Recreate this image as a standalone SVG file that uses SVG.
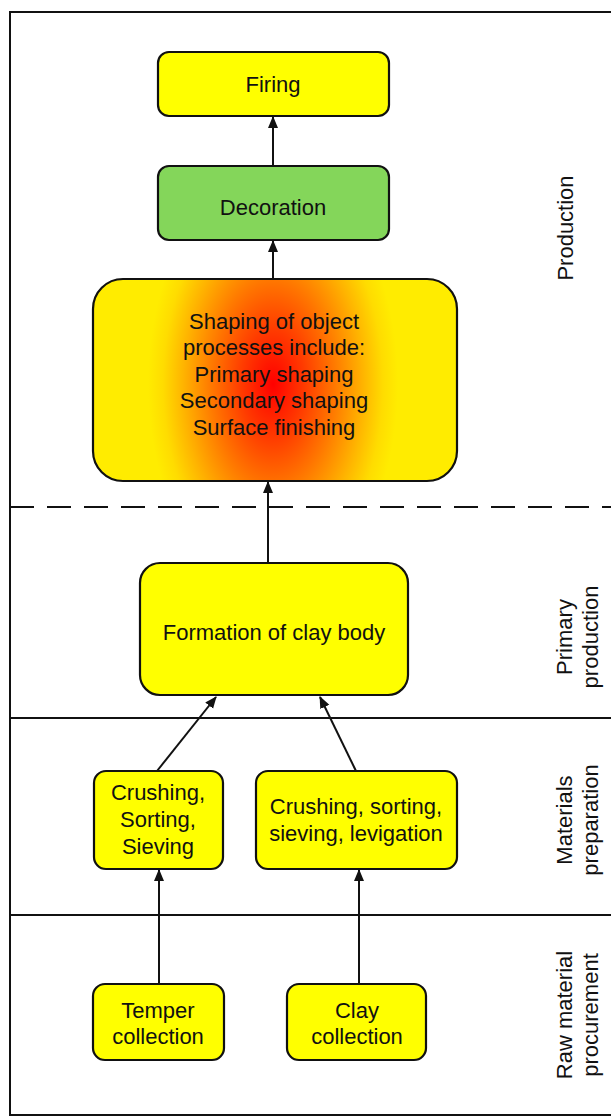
<svg xmlns="http://www.w3.org/2000/svg" width="611" height="1117" viewBox="0 0 611 1117">
<style>
.box{stroke:#111;stroke-width:2.2}
.y{fill:#ffff00}
.t{font-family:"Liberation Sans",Arial,sans-serif;font-size:22px;fill:#111;text-anchor:middle}
.s{font-family:"Liberation Sans",Arial,sans-serif;font-size:22px;fill:#111;text-anchor:middle}
.c{stroke:#111;stroke-width:2;fill:none;marker-end:url(#ah)}
.sep{stroke:#111;stroke-width:1.8}
</style>
<defs>
<marker id="ah" markerWidth="12" markerHeight="12" refX="11" refY="6" orient="auto" markerUnits="userSpaceOnUse">
<path d="M0,1 L12,6 L0,11 Z" fill="#111"/>
</marker>
<radialGradient id="rg" gradientUnits="userSpaceOnUse" cx="273" cy="384" r="125" gradientTransform="translate(273,384) scale(1,1.7) translate(-273,-384)">
<stop offset="0" stop-color="#ff0000"/>
<stop offset="0.25" stop-color="#ff3a00"/>
<stop offset="0.5" stop-color="#ff7a00"/>
<stop offset="0.72" stop-color="#ffb400"/>
<stop offset="0.88" stop-color="#ffdc00"/>
<stop offset="1" stop-color="#ffec00"/>
</radialGradient>
</defs>
<rect width="611" height="1117" fill="#fff"/>
<g id="frame">
<path d="M625,12 H10 V1115 H625" fill="none" stroke="#111" stroke-width="2"/>
<line class="sep" x1="10" y1="507" x2="611" y2="507" stroke-dasharray="24,13"/>
<line class="sep" x1="10" y1="718" x2="611" y2="718"/>
<line class="sep" x1="10" y1="915" x2="611" y2="915"/>
</g>
<g id="connectors">
<line class="c" x1="273" y1="166" x2="273" y2="117"/>
<line class="c" x1="273" y1="279" x2="273" y2="241"/>
<line class="c" x1="268" y1="563" x2="268" y2="482"/>
<line class="c" x1="157" y1="771" x2="216" y2="697"/>
<line class="c" x1="356" y1="771" x2="320" y2="697"/>
<line class="c" x1="159" y1="984" x2="159" y2="870"/>
<line class="c" x1="359" y1="984" x2="359" y2="870"/>
</g>
<g id="firing">
<rect class="box y" x="158" y="52" width="231" height="64" rx="11"/>
<text class="t" x="273" y="92">Firing</text>
</g>
<g id="decoration">
<rect class="box" x="158" y="166" width="231" height="74" rx="11" fill="#84d65a"/>
<text class="t" x="273" y="215">Decoration</text>
</g>
<g id="shaping">
<rect class="box" x="93" y="279" width="364" height="202" rx="30" fill="url(#rg)"/>
<text class="t" x="274" y="329">Shaping of object</text>
<text class="t" x="274" y="355">processes include:</text>
<text class="t" x="274" y="382">Primary shaping</text>
<text class="t" x="274" y="408">Secondary shaping</text>
<text class="t" x="274" y="435">Surface finishing</text>
</g>
<g id="formation">
<rect class="box y" x="140" y="563" width="268" height="132" rx="20"/>
<text class="t" x="274" y="640">Formation of clay body</text>
</g>
<g id="crush-left">
<rect class="box y" x="94" y="771" width="129" height="98" rx="12"/>
<text class="t" x="158" y="800">Crushing,</text>
<text class="t" x="158" y="827">Sorting,</text>
<text class="t" x="158" y="854">Sieving</text>
</g>
<g id="crush-right">
<rect class="box y" x="256" y="771" width="201" height="98" rx="12"/>
<text class="t" x="356" y="814">Crushing, sorting,</text>
<text class="t" x="356" y="841">sieving, levigation</text>
</g>
<g id="temper">
<rect class="box y" x="93" y="984" width="131" height="76" rx="12"/>
<text class="t" x="158" y="1018">Temper</text>
<text class="t" x="158" y="1044">collection</text>
</g>
<g id="clay">
<rect class="box y" x="287" y="984" width="139" height="76" rx="12"/>
<text class="t" x="357" y="1018">Clay</text>
<text class="t" x="357" y="1044">collection</text>
</g>
<g id="labels">
<text class="s" transform="translate(573,228) rotate(-90)">Production</text>
<text class="s" transform="translate(572,637) rotate(-90)">Primary</text>
<text class="s" transform="translate(598,637) rotate(-90)">production</text>
<text class="s" transform="translate(572,820) rotate(-90)">Materials</text>
<text class="s" transform="translate(598,820) rotate(-90)">preparation</text>
<text class="s" transform="translate(572,1015) rotate(-90)">Raw material</text>
<text class="s" transform="translate(598,1015) rotate(-90)">procurement</text>
</g>
</svg>
